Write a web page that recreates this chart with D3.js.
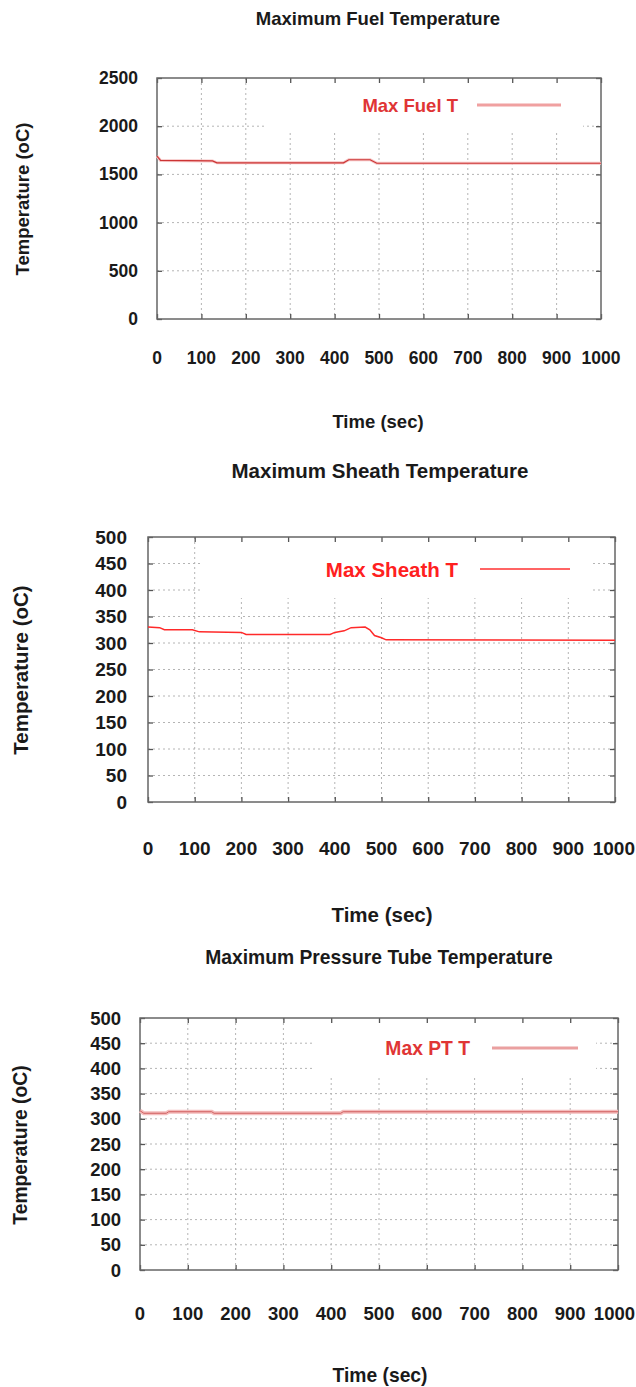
<!DOCTYPE html>
<html>
<head>
<meta charset="utf-8">
<script src="https://cdn.jsdelivr.net/npm/d3@7"></script>
<style>
  html, body { margin: 0; padding: 0; background: #fff; }
  svg text { font-family: "Liberation Sans", Arial, sans-serif; font-weight: bold; }
</style>
</head>
<body>
<svg id="chart" width="636" height="1387"></svg>
<script>
// ---- data ----
const timeTicks = [0, 100, 200, 300, 400, 500, 600, 700, 800, 900, 1000];

const fuelTicks = [0, 500, 1000, 1500, 2000, 2500];
const fuelTime = [0, 8, 125, 135, 420, 432, 480, 495, 1000];
const fuelTemp = [1690, 1645, 1640, 1620, 1620, 1652, 1652, 1615, 1615];

const sheathTicks = [0, 50, 100, 150, 200, 250, 300, 350, 400, 450, 500];
const sheathTime = [0, 25, 35, 95, 110, 200, 210, 390, 400, 420, 435, 465, 475, 485, 500, 510, 1000];
const sheathTemp = [330, 329, 325, 325, 321, 320, 316, 316, 320, 323, 329, 330, 325, 314, 310, 306, 305];

const ptTicks = [0, 50, 100, 150, 200, 250, 300, 350, 400, 450, 500];
const ptTime = [0, 8, 55, 60, 150, 155, 420, 425, 1000];
const ptTemp = [316, 311, 311, 314, 314, 311, 311, 314, 314];

const titles = ["Maximum Fuel Temperature", "Maximum Sheath Temperature", "Maximum Pressure Tube Temperature"];
const legendLabels = ["Max Fuel T", "Max Sheath T", "Max PT T"];
const xTitle = "Time (sec)";
const yTitle = "Temperature (oC)";

// ---- layout of the three stacked panels ----
const W = 636;
const panels = [
  { title: titles[0], label: legendLabels[0], ticks: fuelTicks, xs: fuelTime, ys: fuelTemp,
    left: 157, right: 601, top: 78, bottom: 319, titleY: 18, xLabY: 358, xTitleY: 421, xTitleX: 378, titleX: 378,
    yTitleX: 22, yTitleY: 199, yLabRight: 138, key: [267, 583, 78, 130], keyTextEnd: 458, keyY: 105, keyLine: [477, 561],
    band: "#f6c4c4", bandW: 3, stroke: "#cc3434", strokeW: 1.1, textColor: "#e03535", keyStroke: "#f0a0a0", keyW: 3,
    fs: 18.5, tfs: 17.5 },
  { title: titles[1], label: legendLabels[1], ticks: sheathTicks, xs: sheathTime, ys: sheathTemp,
    left: 148, right: 615, top: 537, bottom: 802, titleY: 470, xLabY: 848, xTitleY: 914, xTitleX: 382, titleX: 380,
    yTitleX: 20, yTitleY: 670, yLabRight: 127, key: [200, 592, 537, 598], keyTextEnd: 458, keyY: 569, keyLine: [480, 570],
    band: null, bandW: 0, stroke: "#ff2a2a", strokeW: 1.5, textColor: "#ff2020", keyStroke: "#ff3030", keyW: 1.5,
    fs: 20.5, tfs: 19 },
  { title: titles[2], label: legendLabels[2], ticks: ptTicks, xs: ptTime, ys: ptTemp,
    left: 140, right: 618, top: 1018, bottom: 1270, titleY: 957, xLabY: 1313, xTitleY: 1375, xTitleX: 380, titleX: 379,
    yTitleX: 20, yTitleY: 1145, yLabRight: 121, key: [314, 596, 1018, 1075], keyTextEnd: 470, keyY: 1048, keyLine: [492, 578],
    band: "#f4bcbc", bandW: 4, stroke: "#d06060", strokeW: 1, textColor: "#e03535", keyStroke: "#eaa0a0", keyW: 3,
    fs: 19.3, tfs: 18.5 }
];

const svg = d3.select("#chart");

function drawPanel(p) {
  const x = d3.scaleLinear().domain([timeTicks[0], timeTicks[timeTicks.length - 1]]).range([p.left, p.right]);
  const y = d3.scaleLinear().domain([p.ticks[0], p.ticks[p.ticks.length - 1]]).range([p.bottom, p.top]);
  const g = svg.append("g");

  // title
  g.append("text").attr("x", p.titleX).attr("y", p.titleY).attr("text-anchor", "middle")
    .attr("dominant-baseline", "central").attr("font-size", p.fs).attr("fill", "#1a1a1a").text(p.title);

  // dotted grid
  const grid = g.append("g").attr("stroke", "#b4b4b4").attr("stroke-width", 1).attr("stroke-dasharray", "2,3");
  grid.selectAll("line.v").data(timeTicks.slice(1, -1)).join("line")
    .attr("x1", d => x(d)).attr("x2", d => x(d)).attr("y1", p.top).attr("y2", p.bottom);
  grid.selectAll("line.h").data(p.ticks.slice(1, -1)).join("line")
    .attr("x1", p.left).attr("x2", p.right).attr("y1", d => y(d)).attr("y2", d => y(d));

  // opaque key box
  g.append("rect").attr("x", p.key[0]).attr("y", p.key[2])
    .attr("width", p.key[1] - p.key[0]).attr("height", p.key[3] - p.key[2]).attr("fill", "#fff");

  // axes with inward ticks on all four sides
  const tl = 5;
  const bottomAxis = d3.axisBottom(x).tickValues(timeTicks).tickSize(-tl).tickFormat("");
  const topAxis = d3.axisTop(x).tickValues(timeTicks).tickSize(-tl).tickFormat("");
  const leftAxis = d3.axisLeft(y).tickValues(p.ticks).tickSize(-tl).tickFormat("");
  const rightAxis = d3.axisRight(y).tickValues(p.ticks).tickSize(-tl).tickFormat("");
  const styleAxis = sel => { sel.select(".domain").remove(); sel.selectAll("line").attr("stroke", "#555").attr("stroke-width", 1.3); };
  g.append("g").attr("transform", `translate(0,${p.bottom})`).call(bottomAxis).call(styleAxis);
  g.append("g").attr("transform", `translate(0,${p.top})`).call(topAxis).call(styleAxis);
  g.append("g").attr("transform", `translate(${p.left},0)`).call(leftAxis).call(styleAxis);
  g.append("g").attr("transform", `translate(${p.right},0)`).call(rightAxis).call(styleAxis);

  // frame
  g.append("rect").attr("x", p.left).attr("y", p.top).attr("width", p.right - p.left).attr("height", p.bottom - p.top)
    .attr("fill", "none").attr("stroke", "#666").attr("stroke-width", 1.5);

  // tick labels (the last time label is kept inside the page edge)
  g.selectAll("text.xl").data(timeTicks).join("text")
    .attr("x", d => x(d)).attr("y", p.xLabY).attr("text-anchor", "middle").attr("dominant-baseline", "central")
    .attr("font-size", p.tfs).attr("fill", "#1a1a1a").text(d => d)
    .each(function () {
      const half = this.getComputedTextLength() / 2;
      const cx = +this.getAttribute("x");
      if (cx + half > W - 1) this.setAttribute("x", W - 1 - half);
    });
  g.selectAll("text.yl").data(p.ticks).join("text")
    .attr("x", p.yLabRight).attr("y", d => y(d)).attr("text-anchor", "end").attr("dominant-baseline", "central")
    .attr("font-size", p.tfs).attr("fill", "#1a1a1a").text(d => d);

  // axis titles
  g.append("text").attr("x", p.xTitleX).attr("y", p.xTitleY).attr("text-anchor", "middle")
    .attr("dominant-baseline", "central").attr("font-size", p.fs).attr("fill", "#1a1a1a").text(xTitle);
  g.append("text").attr("transform", `translate(${p.yTitleX},${p.yTitleY}) rotate(-90)`).attr("text-anchor", "middle")
    .attr("dominant-baseline", "central").attr("font-size", p.fs).attr("fill", "#1a1a1a").text(yTitle);

  // legend
  g.append("text").attr("x", p.keyTextEnd).attr("y", p.keyY).attr("text-anchor", "end").attr("dominant-baseline", "central")
    .attr("font-size", p.fs).attr("fill", p.textColor).text(p.label);
  g.append("line").attr("x1", p.keyLine[0]).attr("x2", p.keyLine[1]).attr("y1", p.keyY).attr("y2", p.keyY)
    .attr("stroke", p.keyStroke).attr("stroke-width", p.keyW);

  // series
  const pts = p.xs.map((t, i) => [t, p.ys[i]]);
  const line = d3.line().x(d => x(d[0])).y(d => y(d[1]));
  if (p.band) {
    g.append("path").attr("d", line(pts)).attr("fill", "none").attr("stroke", p.band).attr("stroke-width", p.bandW);
  }
  g.append("path").attr("d", line(pts)).attr("fill", "none").attr("stroke", p.stroke).attr("stroke-width", p.strokeW);
}

panels.forEach(drawPanel);
</script>
</body>
</html>
